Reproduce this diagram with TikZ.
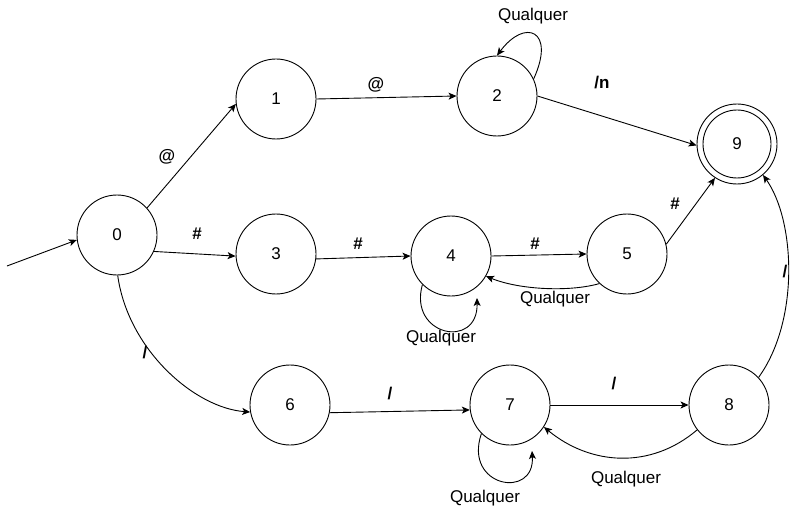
\documentclass[tikz,border=0pt]{standalone}
\usepackage{fontspec}
\setmainfont{Liberation Sans}
\usetikzlibrary{arrows.meta}
\begin{document}
\begin{tikzpicture}[x=1pt,y=-1pt,
  state/.style={circle,draw,minimum size=80pt,inner sep=0pt,line width=0.9pt,font=\fontsize{17}{19}\selectfont},
  edge/.style={line width=0.9pt,-{Stealth[length=8pt,width=7pt,inset=2pt]}},
  lbl/.style={inner sep=0pt,font=\bfseries\fontsize{17}{19}\selectfont},
  qlbl/.style={inner sep=0pt,font=\fontsize{17}{19}\selectfont}]
\useasboundingbox (0,0) rectangle (801,516);
% states
\node[state] (n0) at (117,235) {0};
\node[state] (n1) at (276,99) {1};
\node[state] (n2) at (497,96) {2};
\node[state] (n9) at (737,144) {9};
\draw[line width=0.9pt] (n9.center) circle (34);
\node[state] (n3) at (276,254) {3};
\node[state] (n4) at (451,256) {4};
\node[state] (n5) at (627,254) {5};
\node[state] (n6) at (290,405) {6};
\node[state] (n7) at (510,405) {7};
\node[state] (n8) at (729,405) {8};
% initial
\coordinate (start) at (7,266);
\draw[edge] (start) -- (n0.187);
% edges
\draw[edge] (n0.42) -- (n1.187);
\draw[edge] (n1.0) -- (n2.180);
\draw[edge] (n2.25) .. controls (556,30) and (525,18) .. (n2.north);
\draw[edge] (n2.0) -- (n9.182);
\draw[edge] (n0.-24) -- (n3.183);
\draw[edge] (n3.-7) -- (n4.180);
\draw[edge] (n4.0) -- (n5.180);
\draw[edge] (n5.227) .. controls (570,292) and (520,290) .. (n4.-30);
\coordinate (l4) at (477,298);
\draw[edge] (n4.225) .. controls (408,336) and (478,350) .. (l4);
\draw[edge] (n5.14) -- (n9.237);
\draw[edge] (n0.-89) .. controls (128,350) and (195,408) .. (n6.190);
\draw[edge] (n6.-11) -- (n7.187);
\draw[edge] (n7.0) -- (n8.180);
\draw[edge] (n8.218) .. controls (650,470) and (590,465) .. (n7.-33);
\coordinate (l7) at (532,451);
\draw[edge] (n7.225) .. controls (463,487) and (535,500) .. (l7);
\draw[edge] (n8.43) .. controls (800,320) and (795,220) .. (n9.-50);
% labels
\node[lbl] (la) at (167,157) {@};
\node[lbl] (lb) at (376,85) {@};
\node[qlbl] (lc) at (533,16) {Qualquer};
\node[lbl] (ld) at (602,83) {/n};
\node[lbl] (le) at (197,234) {\#};
\node[lbl] (lf) at (358,244) {\#};
\node[lbl] (lg) at (535,244) {\#};
\node[qlbl] (lh) at (555,299) {Qualquer};
\node[qlbl] (li) at (441,338) {Qualquer};
\node[lbl] (lj) at (675,204) {\#};
\node[lbl] (lk) at (145,353) {/};
\node[lbl] (ll) at (390,394) {/};
\node[lbl] (lm) at (614,384) {/};
\node[qlbl] (ln) at (626,479) {Qualquer};
\node[qlbl] (lo) at (485,498) {Qualquer};
\node[lbl] (lp) at (785,272) {/};
\end{tikzpicture}
\end{document}
